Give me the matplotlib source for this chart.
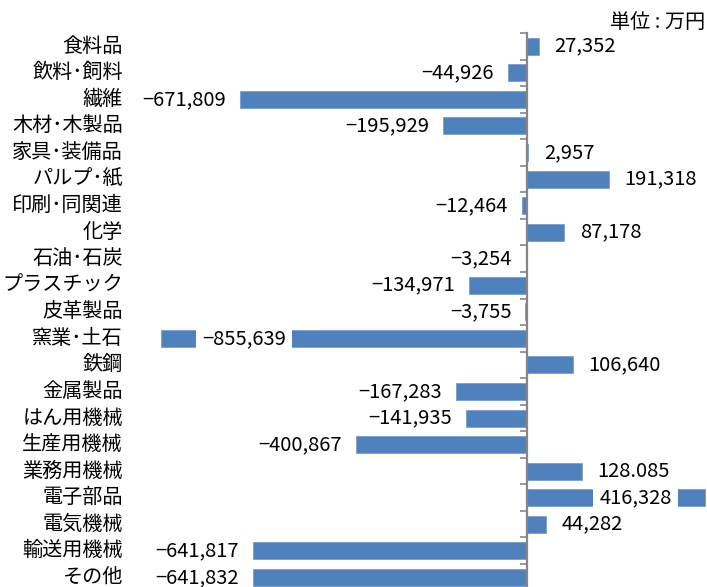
import matplotlib.pyplot as plt
import numpy as np
from matplotlib.transforms import blended_transform_factory

plt.rcParams['font.family'] = ['Noto Sans CJK JP', 'DejaVu Sans']

# 業種別の増減（単位：万円）
categories = ["食料品", "飲料･飼料", "繊維", "木材･木製品", "家具･装備品", "パルプ･紙",
              "印刷･同関連", "化学", "石油･石炭", "プラスチック", "皮革製品", "窯業･土石",
              "鉄鋼", "金属製品", "はん用機械", "生産用機械", "業務用機械", "電子部品",
              "電気機械", "輸送用機械", "その他"]
values = [27352, -44926, -671809, -195929, 2957, 191318, -12464, 87178, -3254, -134971,
          -3755, -855639, 106640, -167283, -141935, -400867, 128085, 416328, 44282,
          -641817, -641832]
labels = ["27,352", "−44,926", "−671,809", "−195,929", "2,957", "191,318", "−12,464",
          "87,178", "−3,254", "−134,971", "−3,755", "−855,639", "106,640", "−167,283",
          "−141,935", "−400,867", "128.085", "416,328", "44,282", "−641,817", "−641,832"]

bar_color = "#4F81BD"
axis_gray = "#868686"
px = 2341.0  # 1ピクセルあたりの値

fig = plt.figure(figsize=(7.07, 5.87), dpi=100)
ax = fig.add_axes([0, 1 - 590.6 / 587, 1, 557.6 / 587])

y = np.arange(len(categories))
ax.barh(y, values, height=0.64, color=bar_color, edgecolor="#6F97CC", linewidth=0.5, zorder=2)

ax.set_xlim(-527 * px, 180 * px)
ax.set_ylim(len(categories) - 0.5, -0.5)

for s in ["top", "right", "bottom"]:
    ax.spines[s].set_visible(False)
ax.spines["left"].set_position(("data", 0))
ax.spines["left"].set_color(axis_gray)
ax.spines["left"].set_linewidth(1.6)
ax.spines["left"].set_zorder(3)
ax.set_xticks([])
ax.set_yticks(np.arange(-0.5, len(categories), 1))
ax.set_yticklabels([])
ax.tick_params(axis="y", length=5, width=1.2, color=axis_gray, direction="out")

# 項目名
trans = blended_transform_factory(fig.transFigure, ax.transData)
for i, c in enumerate(categories):
    ax.text(123 / 707, i, c, transform=trans, ha="right", va="center", fontsize=14.5)

# 値ラベル
fs = 14.5
special = {11: ("left", 41), 17: ("right", -33)}
for i, (v, t) in enumerate(zip(values, labels)):
    if i in special:
        ha, off = special[i]
        ax.annotate(t, (v, i), xytext=(off, 0), textcoords="offset pixels",
                    ha=ha, va="center", fontsize=fs, zorder=4,
                    bbox=dict(boxstyle="square,pad=0.3", fc="white", ec="none"))
    elif v < 0:
        ax.annotate(t, (v, i), xytext=(-14, 0), textcoords="offset pixels",
                    ha="right", va="center", fontsize=fs)
    else:
        ax.annotate(t, (v, i), xytext=(16, 0), textcoords="offset pixels",
                    ha="left", va="center", fontsize=fs)

fig.text(705 / 707, 1 - 22 / 587, "単位 : 万円", ha="right", va="center", fontsize=14.5)

fig.savefig("out.png", dpi=100)
